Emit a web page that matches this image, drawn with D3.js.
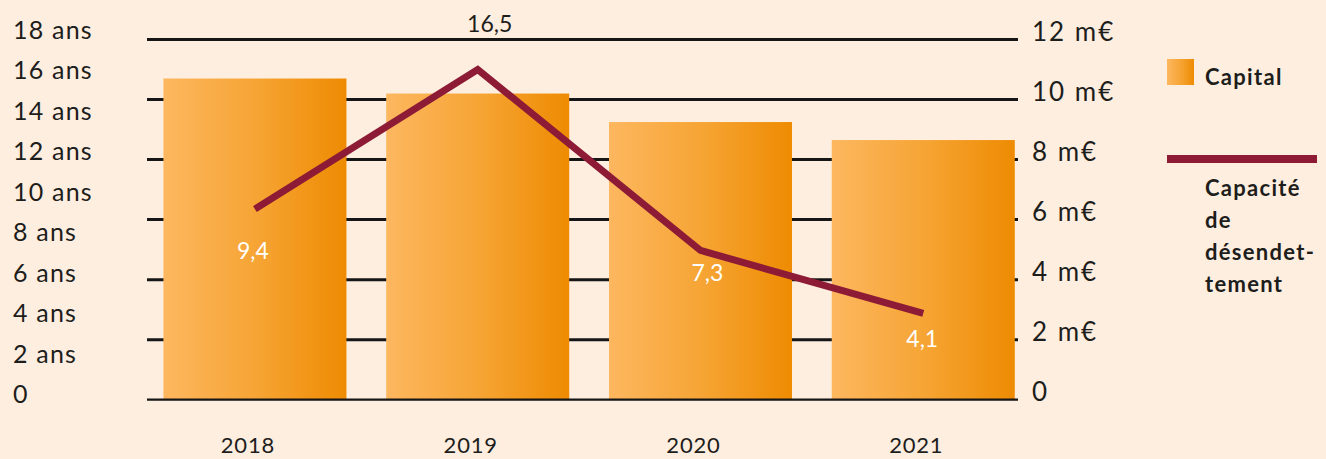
<!DOCTYPE html>
<html>
<head>
<meta charset="utf-8">
<script src="https://cdn.jsdelivr.net/npm/d3@7"></script>
<style>
  html, body { margin: 0; padding: 0; background: #fdeee0; }
  svg { display: block; }
  text { font-family: Lato, "Open Sans", sans-serif; fill: #1d1d1b; }
</style>
</head>
<body>
<svg id="chart" width="1326" height="459"></svg>
<script>
// Years shown on the category axis
const years = ["2018", "2019", "2020", "2021"];
// Capital, in millions of euros (bars, right axis)
const capital = [10.7, 10.2, 9.25, 8.65];
// Debt repayment capacity, in years (line, left axis)
const capacite = [9.4, 16.5, 7.3, 4.1];
const capaciteLabels = ["9,4", "16,5", "7,3", "4,1"];
// Axis ticks
const ansTicks = [0, 2, 4, 6, 8, 10, 12, 14, 16, 18];
const ansTickLabels = ["0", "2 ans", "4 ans", "6 ans", "8 ans", "10 ans", "12 ans", "14 ans", "16 ans", "18 ans"];
const eurTicks = [0, 2, 4, 6, 8, 10, 12];
const eurTickLabels = ["0", "2 m€", "4 m€", "6 m€", "8 m€", "10 m€", "12 m€"];
// Legend
const legendCapital = "Capital";
const legendCapacite = ["Capacité", "de", "désendet-", "tement"];

const svg = d3.select("#chart");

const x = d3.scaleBand()
  .domain(years)
  .range([143.6, 1034.6])
  .paddingInner(0.1785)
  .paddingOuter(0.089);
const yEur = d3.scaleLinear().domain([0, 12]).range([399.7, 39.5]);
const yAns = d3.scaleLinear().domain([0, 18]).range([394, 40]);
const yAnsText = d3.scaleLinear().domain([0, 18]).range([403, 38.5]);

const grid = { x1: 147, x2: 1018 };

// bar gradient
const defs = svg.append("defs");
const grad = defs.append("linearGradient").attr("id", "barGrad")
  .attr("x1", "0%").attr("x2", "100%").attr("y1", "0%").attr("y2", "0%");
grad.append("stop").attr("offset", "0%").attr("stop-color", "#fdb75f");
grad.append("stop").attr("offset", "50%").attr("stop-color", "#f6a535");
grad.append("stop").attr("offset", "100%").attr("stop-color", "#ee8b02");

// horizontal grid lines (behind the bars)
svg.append("g").selectAll("line")
  .data(eurTicks.filter(t => t > 0))
  .join("line")
  .attr("x1", grid.x1).attr("x2", grid.x2)
  .attr("y1", d => yEur(d)).attr("y2", d => yEur(d))
  .attr("stroke", "#161616").attr("stroke-width", 3);

// capital bars
svg.append("g").selectAll("rect")
  .data(capital)
  .join("rect")
  .attr("x", (d, i) => x(years[i]))
  .attr("width", x.bandwidth())
  .attr("y", d => yEur(d))
  .attr("height", d => yEur(0) - yEur(d))
  .attr("fill", "url(#barGrad)");

// baseline, drawn over the bars
svg.append("line")
  .attr("x1", grid.x1).attr("x2", grid.x2)
  .attr("y1", yEur(0)).attr("y2", yEur(0))
  .attr("stroke", "#161616").attr("stroke-width", 2.2);

// capacity line
const line = d3.line()
  .x((d, i) => x(years[i]) + x.bandwidth() / 2)
  .y(d => yAns(d));
svg.append("path")
  .datum(capacite)
  .attr("d", line)
  .attr("fill", "none")
  .attr("stroke", "#8d1b36")
  .attr("stroke-width", 7)
  .attr("stroke-linejoin", "miter");

// value labels for the line
const labelDx = [-2, 12, 7, -1];
const labelDy = [50, -38, 31, 34];
svg.append("g").selectAll("text")
  .data(capacite)
  .join("text")
  .attr("x", (d, i) => x(years[i]) + x.bandwidth() / 2 + labelDx[i])
  .attr("y", (d, i) => yAns(d) + labelDy[i])
  .attr("text-anchor", "middle")
  .attr("font-size", 23)
  .style("fill", (d, i) => i === 1 ? "#1d1d1b" : "#ffffff")
  .text((d, i) => capaciteLabels[i]);

// left axis labels (years of capacity)
svg.append("g").selectAll("text")
  .data(ansTicks)
  .join("text")
  .attr("x", 13)
  .attr("y", d => yAnsText(d))
  .attr("font-size", 25)
  .attr("letter-spacing", 1.2)
  .text((d, i) => ansTickLabels[i]);

// right axis labels (millions of euros)
svg.append("g").selectAll("text")
  .data(eurTicks)
  .join("text")
  .attr("x", 1032)
  .attr("y", d => yEur(d) + 1)
  .attr("font-size", 26)
  .attr("letter-spacing", 2)
  .text((d, i) => eurTickLabels[i]);

// category labels
svg.append("g").selectAll("text")
  .data(years)
  .join("text")
  .attr("x", d => x(d) + x.bandwidth() / 2 - 7)
  .attr("y", 453)
  .attr("text-anchor", "middle")
  .attr("font-size", 22)
  .attr("letter-spacing", 0.8)
  .text(d => d);

// legend
const legend = svg.append("g");
legend.append("rect")
  .attr("x", 1167).attr("y", 59).attr("width", 27).attr("height", 26)
  .attr("fill", "url(#barGrad)");
legend.append("text")
  .attr("x", 1205).attr("y", 84.5)
  .attr("font-size", 22).attr("font-weight", 700).attr("letter-spacing", 1.3)
  .text(legendCapital);
legend.append("line")
  .attr("x1", 1167).attr("x2", 1317).attr("y1", 159).attr("y2", 159)
  .attr("stroke", "#8d1b36").attr("stroke-width", 8);
legend.append("g").selectAll("text")
  .data(legendCapacite)
  .join("text")
  .attr("x", 1205)
  .attr("y", (d, i) => 195.5 + i * 32.3)
  .attr("font-size", 22).attr("font-weight", 700).attr("letter-spacing", 1.3)
  .text(d => d);
</script>
</body>
</html>
